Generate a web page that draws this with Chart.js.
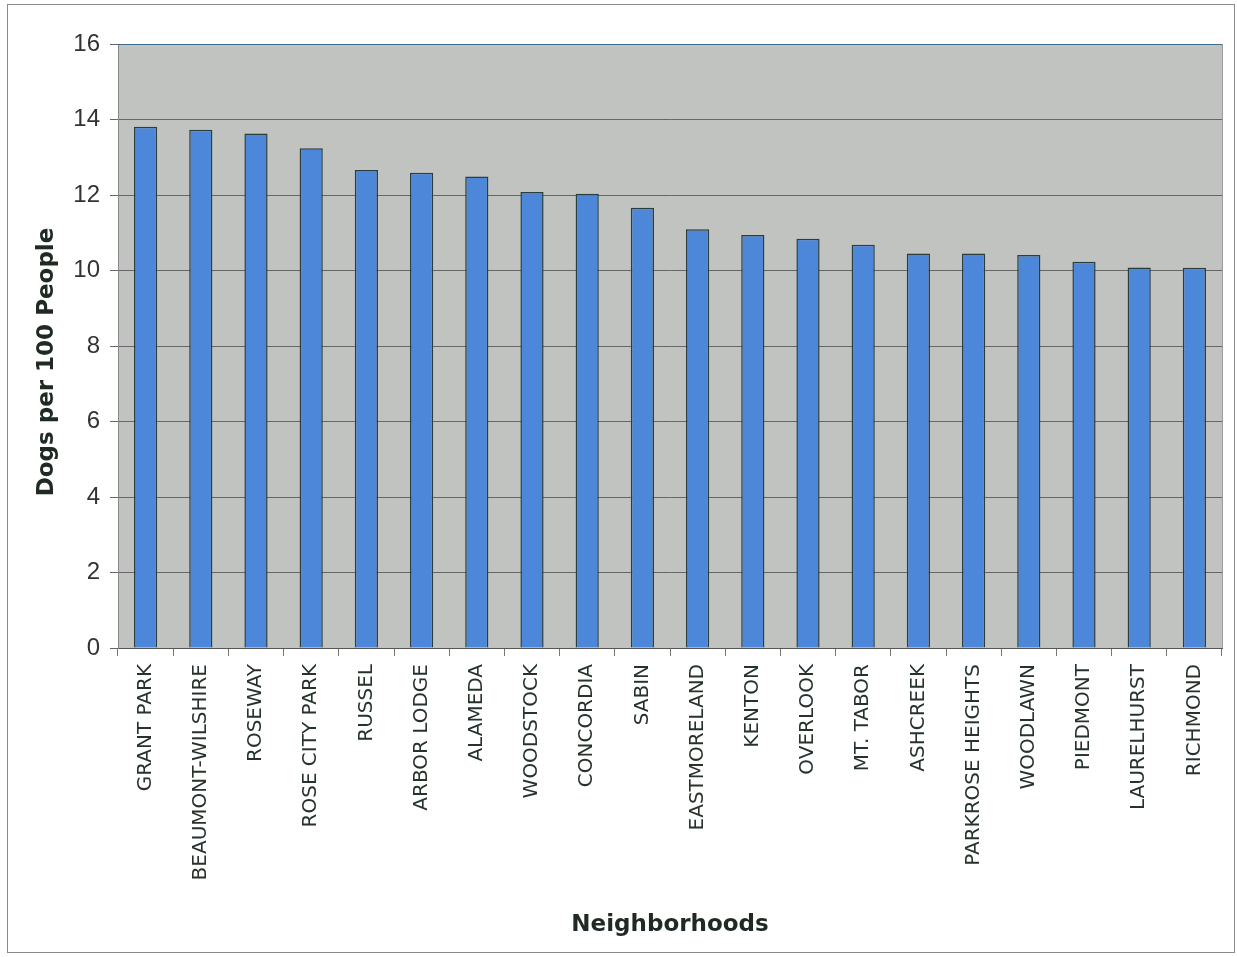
<!DOCTYPE html>
<html lang="en">
<head>
<meta charset="UTF-8">
<title>Dogs per 100 People</title>
<script src="https://cdn.jsdelivr.net/npm/chart.js"></script>
<style>
  body { margin: 0; background: #ffffff; }
  canvas { display: block; }
</style>
</head>
<body>
<canvas id="dogChart" width="1237" height="957"></canvas>
<script>
// neighborhoods, sorted high to low
const neighborhoods = ["GRANT PARK", "BEAUMONT-WILSHIRE", "ROSEWAY", "ROSE CITY PARK", "RUSSEL",
  "ARBOR LODGE", "ALAMEDA", "WOODSTOCK", "CONCORDIA", "SABIN", "EASTMORELAND", "KENTON",
  "OVERLOOK", "MT. TABOR", "ASHCREEK", "PARKROSE HEIGHTS", "WOODLAWN", "PIEDMONT",
  "LAURELHURST", "RICHMOND"];
const dogsPer100 = [13.81, 13.73, 13.63, 13.24, 12.66, 12.59, 12.49, 12.08, 12.03, 11.66,
  11.09, 10.94, 10.84, 10.68, 10.45, 10.45, 10.41, 10.23, 10.08, 10.07];
const yTicks = [0, 2, 4, 6, 8, 10, 12, 14, 16];

// grey plot area + frame round the whole picture
const backdrop = {
  id: "backdrop",
  beforeDraw(chart) {
    const { ctx, chartArea: a } = chart;
    ctx.save();
    ctx.fillStyle = "#c0c3bf";
    ctx.fillRect(a.left, a.top, a.right - a.left, a.bottom - a.top);
    ctx.restore();
  },
  afterDraw(chart) {
    const { ctx, chartArea: a } = chart;
    ctx.save();
    ctx.strokeStyle = "#9a9a9a";
    ctx.lineWidth = 1;
    ctx.beginPath();
    ctx.moveTo(a.right + 0.5, a.top);
    ctx.lineTo(a.right + 0.5, a.bottom);
    ctx.stroke();
    ctx.strokeStyle = "#3d6d8c";
    ctx.beginPath();
    ctx.moveTo(a.left, a.top + 0.5);
    ctx.lineTo(a.right, a.top + 0.5);
    ctx.stroke();
    ctx.strokeStyle = "#8a8a8a";
    ctx.strokeRect(7.5, 4.5, 1227, 948);
    ctx.restore();
  }
};

const ctx = document.getElementById("dogChart").getContext("2d");
new Chart(ctx, {
  type: "bar",
  data: {
    labels: neighborhoods,
    datasets: [{
      data: dogsPer100,
      backgroundColor: "#4d87d9",
      borderColor: "#2b3d3d",
      borderWidth: 1.5,
      categoryPercentage: 1,
      barPercentage: 0.42
    }]
  },
  options: {
    responsive: false,
    animation: false,
    layout: { padding: { top: 44, right: 15, left: 0, bottom: 0 } },
    plugins: { legend: { display: false }, tooltip: { enabled: false } },
    scales: {
      x: {
        afterFit(axis) { axis.height = 309; },
        grid: { drawOnChartArea: false, drawTicks: true, tickLength: 8, color: "#777777" },
        border: { color: "#555555" },
        ticks: {
          autoSkip: false,
          maxRotation: 90,
          minRotation: 90,
          padding: 8,
          color: "#26332b",
          font: { family: "DejaVu Sans", size: 20 }
        },
        title: {
          display: true,
          text: "Neighborhoods",
          color: "#1e2a22",
          font: { family: "DejaVu Sans", size: 23, weight: "bold" },
          padding: { top: 0, bottom: 18 }
        }
      },
      y: {
        min: 0,
        max: 16,
        afterFit(axis) { axis.width = 118; },
        afterBuildTicks(axis) { axis.ticks = yTicks.map(v => ({ value: v })); },
        grid: { color: "#666666", tickLength: 8, lineWidth: 1 },
        border: { color: "#888888" },
        ticks: {
          padding: 10,
          color: "#333333",
          font: { family: "Liberation Sans", size: 24 }
        },
        title: {
          display: true,
          // trailing spaces nudge the title a little below the axis centre, as in the original
          text: "Dogs per 100 People    ",
          color: "#1e2a22",
          font: { family: "DejaVu Sans", size: 23, weight: "bold" },
          padding: { top: 33, bottom: 0 }
        }
      }
    }
  },
  plugins: [backdrop]
});
</script>
</body>
</html>
